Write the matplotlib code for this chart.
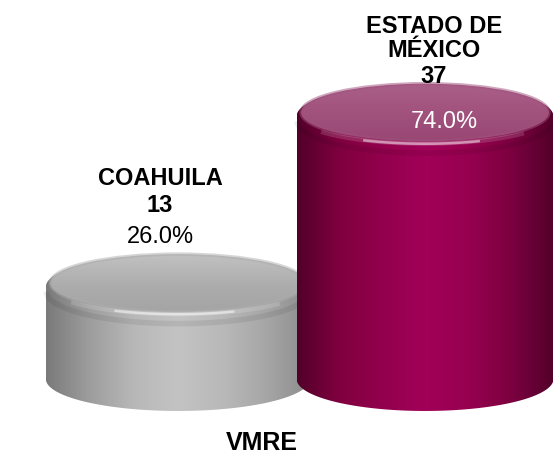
import numpy as np
import matplotlib
matplotlib.use("Agg")
import matplotlib.pyplot as plt
from matplotlib.patches import Polygon, Ellipse
from matplotlib.colors import LinearSegmentedColormap

# data
categories = ["COAHUILA", "ESTADO DE\nMÉXICO"]
counts = [13, 37]
percents = [26.0, 74.0]
axis_label = "VMRE"

body_colors = [
    ["#7a7a7a", "#9e9e9e", "#b8b8b8", "#c3c3c3", "#b9b9b9", "#a6a6a6", "#8c8c8c"],
    ["#52002a", "#80003f", "#93004d", "#a10058", "#97004f", "#7c0040", "#52002a"],
]
top_colors = [
    ["#c2c2c2", "#acacac", "#a2a2a2"],
    ["#aa6089", "#a0517c", "#974572"],
]

plt.rcParams['font.family'] = ['Liberation Sans', 'DejaVu Sans']

fig = plt.figure(figsize=(5.53, 4.54), dpi=100)
ax = fig.add_axes([0, 0, 1, 1])
ax.set_axis_off()

xlim = (-0.7206, 1.518)
ylim = (-10.56, 53.38)
ax.set_xlim(*xlim)
ax.set_ylim(*ylim)

half_w = [0.535, 0.52]
xpos = [0, 1.0]
b = 4.5  # ellipse half-height in value units


def draw_cylinder(i, z):
    xc, v, hw = xpos[i], counts[i], half_w[i]
    t = np.linspace(0, np.pi, 120)
    # body outline: upper back arc, sides, lower front arc
    bx = np.concatenate([xc + hw * np.cos(t), xc - hw * np.cos(t)])
    by = np.concatenate([v + b * np.sin(t), -b * np.sin(t)])
    body = Polygon(np.column_stack([bx, by]), closed=True, facecolor="none",
                   edgecolor="none", zorder=z)
    ax.add_patch(body)
    cmap = LinearSegmentedColormap.from_list("b%d" % i, body_colors[i])
    grad = np.linspace(0, 1, 256).reshape(1, -1)
    im = ax.imshow(grad, cmap=cmap, extent=(xc - hw, xc + hw, -b, v + b),
                   aspect="auto", zorder=z, interpolation="bicubic")
    im.set_clip_path(body)

    # soft shading under the rounded rim
    ax.plot(xc + hw * 0.995 * np.cos(t), v - b * np.sin(t) - 0.7,
            color="black", alpha=0.07, lw=4, zorder=z + 0.1,
            solid_capstyle="butt")

    # top face, a bit inset so the body shows as a bevel
    top = Ellipse((xc, v + 0.12 * b), 2 * hw * 0.965, 2 * b * 0.9,
                  facecolor="none", edgecolor="none", zorder=z + 0.2)
    ax.add_patch(top)
    tcmap = LinearSegmentedColormap.from_list("t%d" % i, top_colors[i])
    tg = np.linspace(0, 1, 128).reshape(-1, 1) * np.ones((1, 128))
    tim = ax.imshow(tg, cmap=tcmap,
                    extent=(xc - hw, xc + hw, v - b, v + b * 1.05),
                    aspect="auto", zorder=z + 0.2, origin="upper",
                    interpolation="bicubic")
    tim.set_clip_path(top)

    # bevel ring between top face and side
    ax.add_patch(Ellipse((xc, v + 0.12 * b), 2 * hw * 0.965, 2 * b * 0.9,
                         facecolor="none", edgecolor=top_colors[i][1],
                         lw=2.5, alpha=0.5, zorder=z + 0.25))

    # front rim highlight
    tt = np.linspace(0.36 * np.pi, 0.66 * np.pi, 80)
    ax.plot(xc + 0.98 * hw * np.cos(tt), v - 0.86 * b * np.sin(tt),
            color="white", alpha=0.5, lw=1.8, zorder=z + 0.3)
    tt = np.linspace(0.22 * np.pi, 0.8 * np.pi, 80)
    ax.plot(xc + 0.98 * hw * np.cos(tt), v - 0.86 * b * np.sin(tt),
            color="white", alpha=0.15, lw=3.0, zorder=z + 0.3)


draw_cylinder(0, 2)
draw_cylinder(1, 4)

ax.set_xlim(*xlim)
ax.set_ylim(*ylim)

# labels (offsets in pixels from the top edge of each cylinder)
names0 = categories[0].split("\n")
names1 = categories[1].split("\n")
lab = dict(ha="center", va="baseline", fontsize=17, zorder=10,
           textcoords="offset pixels")

top0 = (xpos[0], counts[0] + b)
ax.annotate(names0[0], top0, xytext=(-18, 70), fontweight="bold", **lab)
ax.annotate("%d" % counts[0], top0, xytext=(-18, 43), fontweight="bold", **lab)
ax.annotate("%.1f%%" % percents[0], top0, xytext=(-18, 12), **lab)

top1 = (xpos[1], counts[1] + b)
ax.annotate(names1[0], top1, xytext=(9, 51), fontweight="bold", **lab)
ax.annotate(names1[1], top1, xytext=(9, 27), fontweight="bold", **lab)
ax.annotate("%d" % counts[1], top1, xytext=(9, 1), fontweight="bold", **lab)
ax.annotate("%.1f%%" % percents[1], top1, xytext=(19, -44), color="white",
            **lab)

fig.text(0.473, 4 / 454, axis_label, ha="center", va="baseline",
         fontsize=18, fontweight="bold")

fig.savefig("out.png", dpi=100)
